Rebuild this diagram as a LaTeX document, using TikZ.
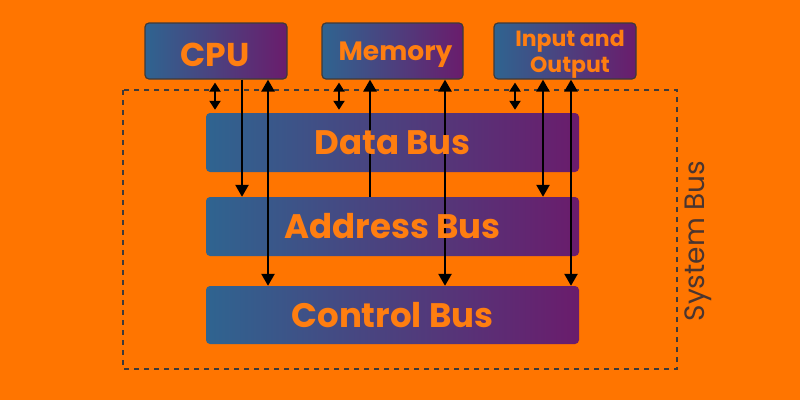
\documentclass[tikz,border=0pt]{standalone}
\usepackage{fontspec}
\setmainfont{Poppins}
\usetikzlibrary{arrows.meta,calc}
\definecolor{bg}{HTML}{FF7500}
\definecolor{bluel}{HTML}{2F6490}
\definecolor{purp}{HTML}{6A1C6C}
\definecolor{txt}{HTML}{FF7E10}
\definecolor{edge}{HTML}{3E3A3A}
\definecolor{sysc}{HTML}{4A3530}
\tikzset{
  topbox/.style={rounded corners=4pt, left color=bluel, right color=purp, draw=edge, line width=1.2pt,
    minimum width=142pt, minimum height=56pt, inner sep=0pt},
  toptext/.style={text=txt, inner sep=0pt},
  busbox/.style={rounded corners=4pt, left color=bluel, right color=purp,
    minimum width=373pt, minimum height=59pt, inner sep=0pt},
  bustext/.style={text=txt, font=\bfseries\fontsize{34}{38}\selectfont, inner sep=0pt},
  arr/.style={line width=2.5pt, -{Triangle[width=13pt,length=12pt]}},
  dbl/.style={line width=2.5pt, {Triangle[width=13pt,length=12pt]}-{Triangle[width=13pt,length=12pt]}},
  smallarr/.style={line width=2pt, {Triangle[width=11pt,length=9pt]}-{Triangle[width=11pt,length=9pt]},
    shorten <=3pt, shorten >=3pt},
  sysframe/.style={draw=edge, line width=1.5pt, dash pattern=on 5pt off 5pt}
}
\begin{document}
\begin{tikzpicture}[x=1pt,y=-1pt]
\fill[bg] (0,0) rectangle (800,400);
\useasboundingbox (0,0) rectangle (800,400);
% system bus frame
\draw[sysframe] (123,90) rectangle (677,369);
\node[rotate=90, text=sysc, font=\fontsize{28}{32}\selectfont, inner sep=0pt] (sys) at (698,241) {System Bus};
% top boxes
\node[topbox] (cpu) at (216,51) {};
\node[topbox, minimum width=141pt] (mem) at (392.5,51) {};
\node[topbox] (io) at (565,51) {};
\node[toptext, font=\bfseries\fontsize{33}{38}\selectfont] (cput) at ($(cpu.center)+(-1,4)$) {CPU};
\node[toptext, font=\bfseries\fontsize{26.5}{30}\selectfont] (memt) at ($(mem.center)+(3,4)$) {Memory};
\node[toptext, align=center, font=\bfseries\fontsize{22}{26}\selectfont] (iot) at ($(io.center)+(5,3)$) {Input and\\Output};
% bus boxes
\node[busbox] (data) at (392.5,142.5) {};
\node[busbox] (addr) at (392.5,226.5) {};
\node[busbox, minimum height=58pt] (ctrl) at (392.5,315) {};
% x positions
\coordinate (c1) at (215,0);
\coordinate (c2) at (242,0);
\coordinate (c3) at (268,0);
\coordinate (m1) at (339,0);
\coordinate (m2) at (370,0);
\coordinate (m3) at (445,0);
\coordinate (i1) at (515,0);
\coordinate (i2) at (543,0);
\coordinate (i3) at (571,0);
% arrows
\draw[smallarr] (cpu.south -| c1) -- (data.north -| c1);
\draw[arr] (cpu.south -| c2) -- (addr.north -| c2);
\draw[dbl] (cpu.south -| c3) -- (ctrl.north -| c3);
\draw[smallarr] (mem.south -| m1) -- (data.north -| m1);
\draw[arr] (addr.north -| m2) -- (mem.south -| m2);
\draw[dbl] (mem.south -| m3) -- (ctrl.north -| m3);
\draw[smallarr] (io.south -| i1) -- (data.north -| i1);
\draw[dbl] (io.south -| i2) -- (addr.north -| i2);
\draw[dbl] (io.south -| i3) -- (ctrl.north -| i3);
% bus labels on top
\node[bustext] (datat) at (data.center) {Data Bus};
\node[bustext] (addrt) at (addr.center) {Address Bus};
\node[bustext] (ctrlt) at (ctrl.center) {Control Bus};
\end{tikzpicture}
\end{document}
